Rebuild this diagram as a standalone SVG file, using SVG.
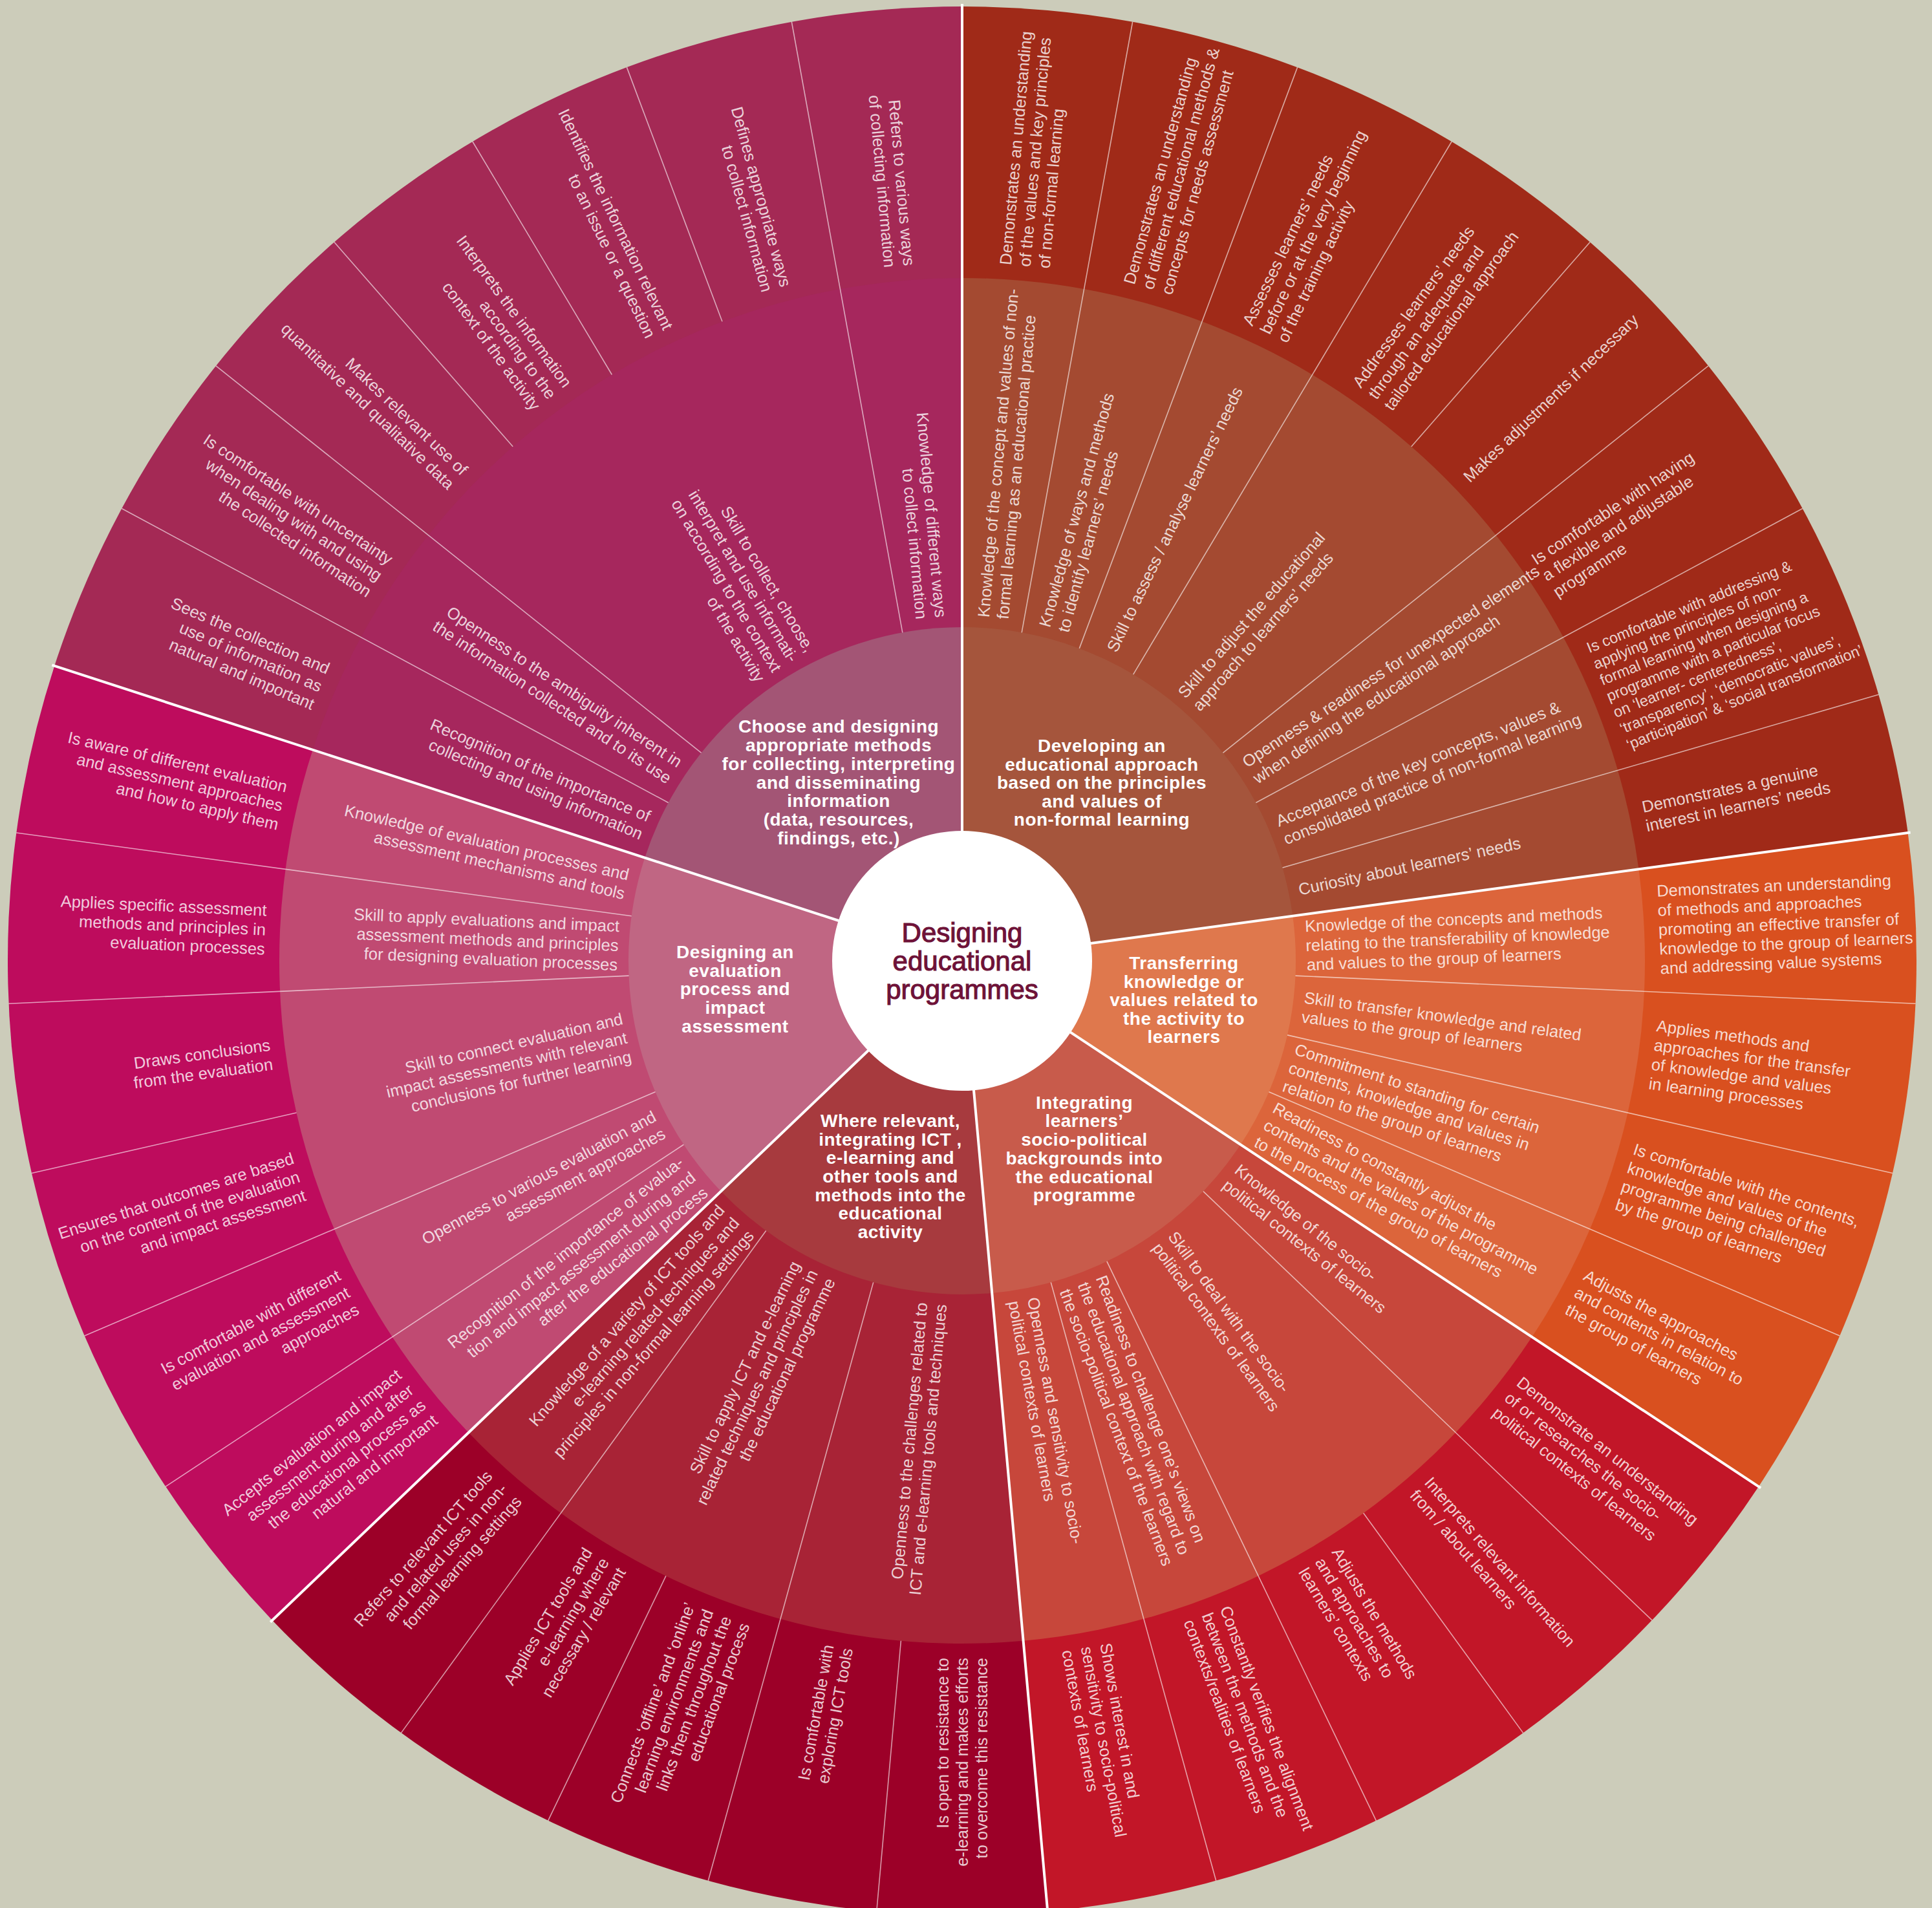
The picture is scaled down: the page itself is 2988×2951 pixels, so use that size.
<svg xmlns="http://www.w3.org/2000/svg" width="2988" height="2951" viewBox="0 0 2988 2951">
<style>
.t{font-family:"Liberation Sans",Arial,Helvetica,sans-serif;font-size:25.5px;fill:#fff;fill-opacity:.8}
.s{text-anchor:start}.e{text-anchor:end}
.sm{font-size:23.5px}
.cl{font-family:"Liberation Sans",Arial,Helvetica,sans-serif;font-weight:bold;font-size:28px;fill:#fff;text-anchor:middle;letter-spacing:.5px}
.ti{font-family:"Liberation Sans",Arial,Helvetica,sans-serif;font-size:42px;fill:#6E1238;stroke:#6E1238;stroke-width:1.1px;text-anchor:middle}
.th{stroke:#fff;stroke-opacity:.6;stroke-width:1.6;fill:none}
.sp{stroke:#fff;stroke-width:4;fill:none}
</style>
<rect x="0" y="0" width="2988" height="2951" fill="#CCCCBA"/>

<g id="cat1">
<path fill="#A02A18" d="M1488 1486 L1488 10 A1476 1476 0 0 1 2950.66 1287.98 Z"/>
<path fill="#A44A31" d="M1488 1486 L1488 430 A1056 1056 0 0 1 2534.45 1344.33 Z"/>
<path fill="#A5553C" d="M1488 1486 L1488 970 A516 516 0 0 1 1999.34 1416.77 Z"/>
<text class="cl"><tspan x="1704" y="1163">Developing an</tspan><tspan x="1704" y="1192">educational approach</tspan><tspan x="1704" y="1220">based on the principles</tspan><tspan x="1704" y="1249">and values of</tspan><tspan x="1704" y="1277">non-formal learning</tspan></text>
</g>
<g id="cat2">
<path fill="#D9501F" d="M1488 1486 L2950.66 1287.98 A1476 1476 0 0 1 2719.84 2299.17 Z"/>
<path fill="#DC653B" d="M1488 1486 L2534.45 1344.33 A1056 1056 0 0 1 2369.32 2067.78 Z"/>
<path fill="#DF784D" d="M1488 1486 L1999.34 1416.77 A516 516 0 0 1 1918.64 1770.28 Z"/>
<text class="cl"><tspan x="1831" y="1499">Transferring</tspan><tspan x="1831" y="1528">knowledge or</tspan><tspan x="1831" y="1556">values related to</tspan><tspan x="1831" y="1585">the activity to</tspan><tspan x="1831" y="1613">learners</tspan></text>
</g>
<g id="cat3">
<path fill="#C21628" d="M1488 1486 L2719.84 2299.17 A1476 1476 0 0 1 1620.23 2956.07 Z"/>
<path fill="#C7473B" d="M1488 1486 L2369.32 2067.78 A1056 1056 0 0 1 1582.61 2537.75 Z"/>
<path fill="#C85B4B" d="M1488 1486 L1918.64 1770.28 A516 516 0 0 1 1534.23 1999.93 Z"/>
<text class="cl"><tspan x="1677" y="1715">Integrating</tspan><tspan x="1677" y="1743">learners’</tspan><tspan x="1677" y="1772">socio-political</tspan><tspan x="1677" y="1801">backgrounds into</tspan><tspan x="1677" y="1830">the educational</tspan><tspan x="1677" y="1858">programme</tspan></text>
</g>
<g id="cat4">
<path fill="#9C0028" d="M1488 1486 L1620.23 2956.07 A1476 1476 0 0 1 421.07 2505.95 Z"/>
<path fill="#A82336" d="M1488 1486 L1582.61 2537.75 A1056 1056 0 0 1 724.67 2215.72 Z"/>
<path fill="#A73A3E" d="M1488 1486 L1534.23 1999.93 A516 516 0 0 1 1115.01 1842.57 Z"/>
<text class="cl"><tspan x="1377" y="1743">Where relevant,</tspan><tspan x="1377" y="1772">integrating ICT ,</tspan><tspan x="1377" y="1800">e-learning and</tspan><tspan x="1377" y="1829">other tools and</tspan><tspan x="1377" y="1858">methods into the</tspan><tspan x="1377" y="1886">educational</tspan><tspan x="1377" y="1915">activity</tspan></text>
</g>
<g id="cat5">
<path fill="#BE0C5D" d="M1488 1486 L421.07 2505.95 A1476 1476 0 0 1 84.24 1029.89 Z"/>
<path fill="#C04A72" d="M1488 1486 L724.67 2215.72 A1056 1056 0 0 1 483.68 1159.67 Z"/>
<path fill="#C06683" d="M1488 1486 L1115.01 1842.57 A516 516 0 0 1 997.25 1326.55 Z"/>
<text class="cl"><tspan x="1137" y="1482">Designing an</tspan><tspan x="1137" y="1511">evaluation</tspan><tspan x="1137" y="1539">process and</tspan><tspan x="1137" y="1568">impact</tspan><tspan x="1137" y="1597">assessment</tspan></text>
</g>
<g id="cat6">
<path fill="#A42955" d="M1488 1486 L84.24 1029.89 A1476 1476 0 0 1 1488 10 Z"/>
<path fill="#A6275D" d="M1488 1486 L483.68 1159.67 A1056 1056 0 0 1 1488 430 Z"/>
<path fill="#A35575" d="M1488 1486 L997.25 1326.55 A516 516 0 0 1 1488 970 Z"/>
<text class="cl"><tspan x="1297" y="1133">Choose and designing</tspan><tspan x="1297" y="1162">appropriate methods</tspan><tspan x="1297" y="1191">for collecting, interpreting</tspan><tspan x="1297" y="1220">and disseminating</tspan><tspan x="1297" y="1248">information</tspan><tspan x="1297" y="1277">(data, resources,</tspan><tspan x="1297" y="1306">findings, etc.)</tspan></text>
</g>

<g id="connectors" transform="translate(1488 1486)">
<g class="th">
<line x1="0" y1="-516" x2="0" y2="-1476" transform="rotate(10.29)"/>
<line x1="0" y1="-516" x2="0" y2="-1476" transform="rotate(20.57)"/>
<line x1="0" y1="-516" x2="0" y2="-1476" transform="rotate(30.86)"/>
<line x1="0" y1="-516" x2="0" y2="-1476" transform="rotate(51.43)"/>
<line x1="0" y1="-516" x2="0" y2="-1476" transform="rotate(61.71)"/>
<line x1="0" y1="-516" x2="0" y2="-1476" transform="rotate(73.8)"/>
<line x1="0" y1="-516" x2="0" y2="-1476" transform="rotate(92.57)"/>
<line x1="0" y1="-516" x2="0" y2="-1476" transform="rotate(102.86)"/>
<line x1="0" y1="-516" x2="0" y2="-1476" transform="rotate(113.14)"/>
<line x1="0" y1="-516" x2="0" y2="-1476" transform="rotate(133.71)"/>
<line x1="0" y1="-516" x2="0" y2="-1476" transform="rotate(154.29)"/>
<line x1="0" y1="-516" x2="0" y2="-1476" transform="rotate(164.57)"/>
<line x1="0" y1="-516" x2="0" y2="-1476" transform="rotate(195.43)"/>
<line x1="0" y1="-516" x2="0" y2="-1476" transform="rotate(216)"/>
<line x1="0" y1="-516" x2="0" y2="-1476" transform="rotate(236.57)"/>
<line x1="0" y1="-516" x2="0" y2="-1476" transform="rotate(246.86)"/>
<line x1="0" y1="-516" x2="0" y2="-1476" transform="rotate(267.43)"/>
<line x1="0" y1="-516" x2="0" y2="-1476" transform="rotate(277.71)"/>
<line x1="0" y1="-516" x2="0" y2="-1476" transform="rotate(298.29)"/>
<line x1="0" y1="-516" x2="0" y2="-1476" transform="rotate(308.57)"/>
<line x1="0" y1="-516" x2="0" y2="-1476" transform="rotate(349.71)"/>
<line x1="0" y1="-1056" x2="0" y2="-1476" transform="rotate(41.14)"/>
<line x1="0" y1="-1056" x2="0" y2="-1476" transform="rotate(144)"/>
<line x1="0" y1="-1056" x2="0" y2="-1476" transform="rotate(185.14)"/>
<line x1="0" y1="-1056" x2="0" y2="-1476" transform="rotate(205.71)"/>
<line x1="0" y1="-1056" x2="0" y2="-1476" transform="rotate(257.14)"/>
<line x1="0" y1="-1056" x2="0" y2="-1476" transform="rotate(318.86)"/>
<line x1="0" y1="-1056" x2="0" y2="-1476" transform="rotate(329.14)"/>
<line x1="0" y1="-1056" x2="0" y2="-1476" transform="rotate(339.43)"/>
</g>
<g class="sp">
<line x1="0" y1="-195" x2="0" y2="-1480" transform="rotate(0)"/>
<line x1="0" y1="-195" x2="0" y2="-1480" transform="rotate(82.29)"/>
<line x1="0" y1="-195" x2="0" y2="-1480" transform="rotate(123.43)"/>
<line x1="0" y1="-195" x2="0" y2="-1480" transform="rotate(174.86)"/>
<line x1="0" y1="-195" x2="0" y2="-1480" transform="rotate(226.29)"/>
<line x1="0" y1="-195" x2="0" y2="-1480" transform="rotate(288)"/>
</g>
</g>

<g id="items" transform="translate(1488 1486)">
<g id="c1-a" transform="rotate(-84.86)"><text class="t s"><tspan x="532" y="-6">Knowledge of the concept and values of non-</tspan><tspan x="532" y="24">formal learning as an educational practice</tspan></text></g>
<g id="c1-b" transform="rotate(-74.57)"><text class="t s"><tspan x="532" y="-6">Knowledge of ways and methods</tspan><tspan x="532" y="24">to identify learners’ needs</tspan></text></g>
<g id="c1-c" transform="rotate(-64.29)"><text class="t s"><tspan x="532" y="9">Skill to assess / analyse learners’ needs</tspan></text></g>
<g id="c1-d" transform="rotate(-48.86)"><text class="t s"><tspan x="532" y="-6">Skill to adjust the educational</tspan><tspan x="532" y="24">approach to learners’ needs</tspan></text></g>
<g id="c1-e" transform="rotate(-33.43)"><text class="t s"><tspan x="532" y="-6">Openness &amp; readiness for unexpected elements</tspan><tspan x="532" y="24">when defining the educational approach</tspan></text></g>
<g id="c1-f" transform="rotate(-22.25)"><text class="t s"><tspan x="532" y="-6">Acceptance of the key concepts, values &amp;</tspan><tspan x="532" y="24">consolidated practice of non-formal learning</tspan></text></g>
<g id="c1-g" transform="rotate(-11.95)"><text class="t s"><tspan x="532" y="9">Curiosity about learners’ needs</tspan></text></g>
<g id="c1-1" transform="rotate(-84.86)"><text class="t s"><tspan x="1078" y="-21">Demonstrates an understanding</tspan><tspan x="1078" y="9">of the values and key principles</tspan><tspan x="1078" y="39">of non-formal learning</tspan></text></g>
<g id="c1-2" transform="rotate(-74.57)"><text class="t s"><tspan x="1078" y="-21">Demonstrates an understanding</tspan><tspan x="1078" y="9">of different educational methods &amp;</tspan><tspan x="1078" y="39">concepts for needs assessment</tspan></text></g>
<g id="c1-3" transform="rotate(-64.29)"><text class="t s"><tspan x="1078" y="-21">Assesses learners’ needs</tspan><tspan x="1078" y="9">before or at the very beginning</tspan><tspan x="1078" y="39">of the training activity</tspan></text></g>
<g id="c1-4" transform="rotate(-54)"><text class="t s"><tspan x="1078" y="-21">Addresses learners’ needs</tspan><tspan x="1078" y="9">through an adequate and</tspan><tspan x="1078" y="39">tailored educational approach</tspan></text></g>
<g id="c1-5" transform="rotate(-43.71)"><text class="t s"><tspan x="1078" y="9">Makes adjustments if necessary</tspan></text></g>
<g id="c1-6" transform="rotate(-33.43)"><text class="t s"><tspan x="1078" y="-21">Is comfortable with having</tspan><tspan x="1078" y="9">a flexible and adjustable</tspan><tspan x="1078" y="39">programme</tspan></text></g>
<g id="c1-7" transform="rotate(-22.25)"><text class="t s sm"><tspan x="1078" y="-73">Is comfortable with addressing &amp;</tspan><tspan x="1078" y="-46">applying the principles of non-</tspan><tspan x="1078" y="-19">formal learning when designing a</tspan><tspan x="1078" y="8">programme with a particular focus</tspan><tspan x="1078" y="35">on ‘learner- centeredness’,</tspan><tspan x="1078" y="62">‘transparency’, ‘democratic values’,</tspan><tspan x="1078" y="89">‘participation’ &amp; ‘social transformation’</tspan></text></g>
<g id="c1-8" transform="rotate(-11.95)"><text class="t s"><tspan x="1078" y="-6">Demonstrates a genuine</tspan><tspan x="1078" y="24">interest in learners’ needs</tspan></text></g>
<g id="c2-a" transform="rotate(-2.57)"><text class="t s"><tspan x="532" y="-21">Knowledge of the concepts and methods</tspan><tspan x="532" y="9">relating to the transferability of knowledge</tspan><tspan x="532" y="39">and values to the group of learners</tspan></text></g>
<g id="c2-b" transform="rotate(7.71)"><text class="t s"><tspan x="532" y="-6">Skill to transfer knowledge and related</tspan><tspan x="532" y="24">values to the group of learners</tspan></text></g>
<g id="c2-c" transform="rotate(18)"><text class="t s"><tspan x="532" y="-21">Commitment to standing for certain</tspan><tspan x="532" y="9">contents, knowledge and values in</tspan><tspan x="532" y="39">relation to the group of learners</tspan></text></g>
<g id="c2-d" transform="rotate(28.29)"><text class="t s"><tspan x="532" y="-21">Readiness to constantly adjust the</tspan><tspan x="532" y="9">contents and the values of the programme</tspan><tspan x="532" y="39">to the process of the group of learners</tspan></text></g>
<g id="c2-1" transform="rotate(-2.57)"><text class="t s"><tspan x="1078" y="-51">Demonstrates an understanding</tspan><tspan x="1078" y="-21">of methods and approaches</tspan><tspan x="1078" y="9">promoting an effective transfer of</tspan><tspan x="1078" y="39">knowledge to the group of learners</tspan><tspan x="1078" y="69">and addressing value systems</tspan></text></g>
<g id="c2-2" transform="rotate(7.71)"><text class="t s"><tspan x="1078" y="-36">Applies methods and</tspan><tspan x="1078" y="-6">approaches for the transfer</tspan><tspan x="1078" y="24">of knowledge and values</tspan><tspan x="1078" y="54">in learning processes</tspan></text></g>
<g id="c2-3" transform="rotate(18)"><text class="t s"><tspan x="1078" y="-36">Is comfortable with the contents,</tspan><tspan x="1078" y="-6">knowledge and values of the</tspan><tspan x="1078" y="24">programme being challenged</tspan><tspan x="1078" y="54">by the group of learners</tspan></text></g>
<g id="c2-4" transform="rotate(28.29)"><text class="t s"><tspan x="1078" y="-21">Adjusts the approaches</tspan><tspan x="1078" y="9">and contents in relation to</tspan><tspan x="1078" y="39">the group of learners</tspan></text></g>
<g id="c3-a" transform="rotate(38.57)"><text class="t s"><tspan x="532" y="-6">Knowledge of the socio-</tspan><tspan x="532" y="24">political contexts of learners</tspan></text></g>
<g id="c3-b" transform="rotate(54)"><text class="t s"><tspan x="532" y="-6">Skill to deal with the socio-</tspan><tspan x="532" y="24">political contexts of learners</tspan></text></g>
<g id="c3-c" transform="rotate(69.43)"><text class="t s"><tspan x="532" y="-21">Readiness to challenge one’s views on</tspan><tspan x="532" y="9">the educational approach with regard to</tspan><tspan x="532" y="39">the socio-political context of the learners</tspan></text></g>
<g id="c3-d" transform="rotate(79.71)"><text class="t s"><tspan x="532" y="-6">Openness and sensitivity to socio-</tspan><tspan x="532" y="24">political contexts of learners</tspan></text></g>
<g id="c3-1" transform="rotate(38.57)"><text class="t s"><tspan x="1078" y="-21">Demonstrate an understanding</tspan><tspan x="1078" y="9">of or researches the socio-</tspan><tspan x="1078" y="39">political contexts of learners</tspan></text></g>
<g id="c3-2" transform="rotate(48.86)"><text class="t s"><tspan x="1078" y="-6">Interprets relevant information</tspan><tspan x="1078" y="24">from / about learners</tspan></text></g>
<g id="c3-3" transform="rotate(59.14)"><text class="t s"><tspan x="1078" y="-21">Adjusts the methods</tspan><tspan x="1078" y="9">and approaches to</tspan><tspan x="1078" y="39">learners’ contexts</tspan></text></g>
<g id="c3-4" transform="rotate(69.43)"><text class="t s"><tspan x="1078" y="-21">Constantly verifies the alignment</tspan><tspan x="1078" y="9">between the methods and the</tspan><tspan x="1078" y="39">contexts/realities of learners</tspan></text></g>
<g id="c3-5" transform="rotate(79.71)"><text class="t s"><tspan x="1078" y="-21">Shows interest in and</tspan><tspan x="1078" y="9">sensitivity to socio-political</tspan><tspan x="1078" y="39">contexts of learners</tspan></text></g>
<g id="c4-a" transform="rotate(275.14)"><text class="t e"><tspan x="-532" y="-6">Openness to the challenges related to</tspan><tspan x="-532" y="24">ICT and e-learning tools and techniques</tspan></text></g>
<g id="c4-b" transform="rotate(295.71)"><text class="t e"><tspan x="-532" y="-21">Skill to apply ICT and e-learning</tspan><tspan x="-532" y="9">related techniques and principles in</tspan><tspan x="-532" y="39">the educational programme</tspan></text></g>
<g id="c4-c" transform="rotate(311.14)"><text class="t e"><tspan x="-532" y="-21">Knowledge of a variety of ICT tools and</tspan><tspan x="-532" y="9">e-learning related techniques and</tspan><tspan x="-532" y="39">principles in non-formal learning settings</tspan></text></g>
<g id="c4-1" transform="rotate(270)"><text class="t e"><tspan x="-1078" y="-21">Is open to resistance to</tspan><tspan x="-1078" y="9">e-learning and makes efforts</tspan><tspan x="-1078" y="39">to overcome this resistance</tspan></text></g>
<g id="c4-2" transform="rotate(280.29)"><text class="t e"><tspan x="-1078" y="-6">Is comfortable with</tspan><tspan x="-1078" y="24">exploring ICT tools</tspan></text></g>
<g id="c4-3" transform="rotate(290.57)"><text class="t e"><tspan x="-1078" y="-36">Connects ‘offline’ and ‘online’</tspan><tspan x="-1078" y="-6">learning environments and</tspan><tspan x="-1078" y="24">links them throughout the</tspan><tspan x="-1078" y="54">educational process</tspan></text></g>
<g id="c4-4" transform="rotate(300.86)"><text class="t e"><tspan x="-1078" y="-21">Applies ICT tools and</tspan><tspan x="-1078" y="9">e-learning where</tspan><tspan x="-1078" y="39">necessary / relevant</tspan></text></g>
<g id="c4-5" transform="rotate(311.14)"><text class="t e"><tspan x="-1078" y="-21">Refers to relevant ICT tools</tspan><tspan x="-1078" y="9">and related uses in non-</tspan><tspan x="-1078" y="39">formal learning settings</tspan></text></g>
<g id="c5-a" transform="rotate(321.43)"><text class="t e"><tspan x="-532" y="-21">Recognition of the importance of evalua-</tspan><tspan x="-532" y="9">tion and impact assessment during and</tspan><tspan x="-532" y="39">after the educational process</tspan></text></g>
<g id="c5-b" transform="rotate(331.71)"><text class="t e"><tspan x="-532" y="-6">Openness to various evaluation and</tspan><tspan x="-532" y="24">assessment approaches</tspan></text></g>
<g id="c5-c" transform="rotate(347.14)"><text class="t e"><tspan x="-532" y="-21">Skill to connect evaluation and</tspan><tspan x="-532" y="9">impact assessments with relevant</tspan><tspan x="-532" y="39">conclusions for further learning</tspan></text></g>
<g id="c5-d" transform="rotate(2.57)"><text class="t e"><tspan x="-532" y="-21">Skill to apply evaluations and impact</tspan><tspan x="-532" y="9">assessment methods and principles</tspan><tspan x="-532" y="39">for designing evaluation processes</tspan></text></g>
<g id="c5-e" transform="rotate(12.86)"><text class="t e"><tspan x="-532" y="-6">Knowledge of evaluation processes and</tspan><tspan x="-532" y="24">assessment mechanisms and tools</tspan></text></g>
<g id="c5-1" transform="rotate(321.43)"><text class="t e"><tspan x="-1078" y="-36">Accepts evaluation and impact</tspan><tspan x="-1078" y="-6">assessment during and after</tspan><tspan x="-1078" y="24">the educational process as</tspan><tspan x="-1078" y="54">natural and important</tspan></text></g>
<g id="c5-2" transform="rotate(331.71)"><text class="t e"><tspan x="-1078" y="-21">Is comfortable with different</tspan><tspan x="-1078" y="9">evaluation and assessment</tspan><tspan x="-1078" y="39">approaches</tspan></text></g>
<g id="c5-3" transform="rotate(342)"><text class="t e"><tspan x="-1078" y="-21">Ensures that outcomes are based</tspan><tspan x="-1078" y="9">on the content of the evaluation</tspan><tspan x="-1078" y="39">and impact assessment</tspan></text></g>
<g id="c5-4" transform="rotate(352.29)"><text class="t e"><tspan x="-1078" y="-6">Draws conclusions</tspan><tspan x="-1078" y="24">from the evaluation</tspan></text></g>
<g id="c5-5" transform="rotate(2.57)"><text class="t e"><tspan x="-1078" y="-21">Applies specific assessment</tspan><tspan x="-1078" y="9">methods and principles in</tspan><tspan x="-1078" y="39">evaluation processes</tspan></text></g>
<g id="c5-6" transform="rotate(12.86)"><text class="t e"><tspan x="-1078" y="-21">Is aware of different evaluation</tspan><tspan x="-1078" y="9">and assessment approaches</tspan><tspan x="-1078" y="39">and how to apply them</tspan></text></g>
<g id="c6-a" transform="rotate(23.14)"><text class="t e"><tspan x="-532" y="-6">Recognition of the importance of</tspan><tspan x="-532" y="24">collecting and using information</tspan></text></g>
<g id="c6-b" transform="rotate(33.43)"><text class="t e"><tspan x="-532" y="-6">Openness to the ambiguity inherent in</tspan><tspan x="-532" y="24">the information collected and to its use</tspan></text></g>
<g id="c6-c" transform="rotate(59.14)"><text class="t e"><tspan x="-532" y="-36">Skill to collect, choose,</tspan><tspan x="-532" y="-6">interpret and use informati-</tspan><tspan x="-532" y="24">on according to the context</tspan><tspan x="-532" y="54">of the activity</tspan></text></g>
<g id="c6-d" transform="rotate(84.86)"><text class="t e"><tspan x="-532" y="-6">Knowledge of different ways</tspan><tspan x="-532" y="24">to collect information</tspan></text></g>
<g id="c6-1" transform="rotate(23.14)"><text class="t e"><tspan x="-1078" y="-21">Sees the collection and</tspan><tspan x="-1078" y="9">use of information as</tspan><tspan x="-1078" y="39">natural and important</tspan></text></g>
<g id="c6-2" transform="rotate(33.43)"><text class="t e"><tspan x="-1078" y="-21">Is comfortable with uncertainty</tspan><tspan x="-1078" y="9">when dealing with and using</tspan><tspan x="-1078" y="39">the collected information</tspan></text></g>
<g id="c6-3" transform="rotate(43.71)"><text class="t e"><tspan x="-1078" y="-6">Makes relevant use of</tspan><tspan x="-1078" y="24">quantitative and qualitative data</tspan></text></g>
<g id="c6-4" transform="rotate(54)"><text class="t e"><tspan x="-1078" y="-21">Interprets the information</tspan><tspan x="-1078" y="9">according to the</tspan><tspan x="-1078" y="39">context of the activity</tspan></text></g>
<g id="c6-5" transform="rotate(64.29)"><text class="t e"><tspan x="-1078" y="-6">Identifies the information relevant</tspan><tspan x="-1078" y="24">to an issue or a question</tspan></text></g>
<g id="c6-6" transform="rotate(74.57)"><text class="t e"><tspan x="-1078" y="-6">Defines appropriate ways</tspan><tspan x="-1078" y="24">to collect information</tspan></text></g>
<g id="c6-7" transform="rotate(84.86)"><text class="t e"><tspan x="-1078" y="-6">Refers to various ways</tspan><tspan x="-1078" y="24">of collecting information</tspan></text></g>
</g>

<g id="center">
<circle cx="1488" cy="1486" r="201" fill="#FFFFFF"/>
<text class="ti"><tspan x="1488" y="1457">Designing</tspan><tspan x="1488" y="1501">educational</tspan><tspan x="1488" y="1545">programmes</tspan></text>
</g>
</svg>
